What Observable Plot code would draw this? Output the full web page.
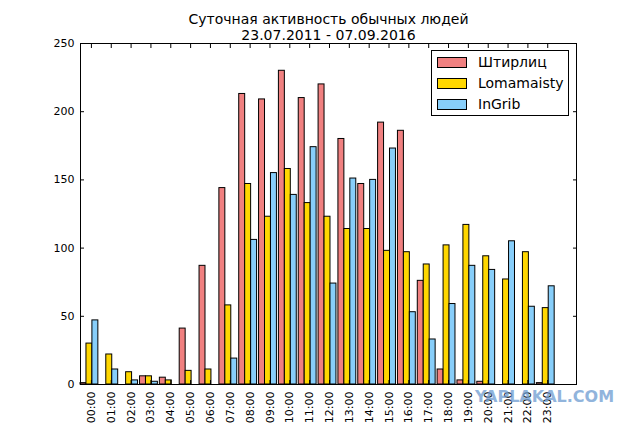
<!DOCTYPE html>
<html>
<head>
<meta charset="utf-8">
<script src="https://cdn.jsdelivr.net/npm/d3@7"></script>
<script src="https://cdn.jsdelivr.net/npm/@observablehq/plot@0.6"></script>
<style>
  html, body { margin: 0; padding: 0; background: #fff; }
  #wrap { position: relative; width: 640px; height: 427px; font-family: "DejaVu Sans", sans-serif; }
  #legend { position: absolute; left: 431px; top: 50px; width: 138px; height: 66px; border: 1px solid #000; background: #fff; box-sizing: border-box; }
  .row { position: absolute; left: 5px; height: 12px; display: flex; align-items: center; font-size: 14px; color: #000; }
  .sw { width: 28px; height: 9px; border: 1px solid #000; margin-right: 11px; flex: none; }
  #wm { position: absolute; left: 475px; top: 387px; font-family: "DejaVu Sans", sans-serif; font-weight: bold; font-size: 16px; color: #6d9bd1; opacity: 0.75; letter-spacing: 0px; }
</style>
</head>
<body>
<div id="wrap"></div>
<script>
const hours = ["00:00","01:00","02:00","03:00","04:00","05:00","06:00","07:00","08:00","09:00","10:00","11:00",
               "12:00","13:00","14:00","15:00","16:00","17:00","18:00","19:00","20:00","21:00","22:00","23:00"];
const seriesNames = ["Штирлиц", "Lomamaisty", "InGrib"];
const shtirlits  = [1, 0, 0, 6, 5, 41, 87, 144, 213, 209, 230, 210, 220, 180, 147, 192, 186, 76, 11, 3, 2, 0, 0, 1];
const lomamaisty = [30, 22, 9, 6, 3, 10, 11, 58, 147, 123, 158, 133, 123, 114, 114, 98, 97, 88, 102, 117, 94, 77, 97, 56];
const ingrib     = [47, 11, 3, 2, 0, 0, 0, 19, 106, 155, 139, 174, 74, 151, 150, 173, 53, 33, 59, 87, 84, 105, 57, 72];
const yTicks = [0, 50, 100, 150, 200, 250];
const colors = ["#f08080", "#ffd700", "#87cefa"];
const titleLines = ["Суточная активность обычных людей", "23.07.2011 - 07.09.2016"];

const barW = 0.3;
const tickOffset = 0.55;
const allSeries = [shtirlits, lomamaisty, ingrib];
const rows = [];
allSeries.forEach((vals, k) => vals.forEach((v, i) => rows.push({
  series: seriesNames[k], x1: i + k * barW, x2: i + (k + 1) * barW, value: v
})));
const xTickPos = hours.map((h, i) => i + tickOffset);

const chart = Plot.plot({
  width: 640,
  height: 427,
  marginLeft: 80,
  marginRight: 64,
  marginTop: 43,
  marginBottom: 43,
  style: { fontFamily: "DejaVu Sans, sans-serif", fontSize: "11px", color: "#000", background: "#fff" },
  x: { domain: [0, 25] },
  y: { domain: [0, 250] },
  color: { domain: seriesNames, range: colors },
  marks: [
    Plot.rectY(rows, { x1: "x1", x2: "x2", y1: 0, y2: "value", fill: "series", stroke: "#000", strokeWidth: 1 }),
    Plot.axisY({ anchor: "left", ticks: yTicks, tickSize: 0, tickPadding: 6, label: null, fontSize: 11 }),
    Plot.axisY({ anchor: "left", ticks: yTicks, tickSize: 4, text: null, label: null, dx: 4 }),
    Plot.axisY({ anchor: "right", ticks: yTicks, tickSize: 4, text: null, label: null, dx: -4 }),
    Plot.axisX({ anchor: "top", ticks: xTickPos, tickSize: 4, text: null, label: null, dy: 4 }),
    Plot.axisX({ anchor: "bottom", ticks: xTickPos, tickSize: 4, text: null, label: null, dy: -4 }),
    Plot.axisX({ anchor: "bottom", ticks: xTickPos, tickSize: 0, tickPadding: 7, tickRotate: -90,
                 tickFormat: d => hours[Math.round(d - tickOffset)], label: null, fontSize: 11 }),
    Plot.frame({ stroke: "#000", strokeWidth: 1 }),
    Plot.text([titleLines[0]], { frameAnchor: "top", dy: -29, fontSize: 14, fill: "#000" }),
    Plot.text([titleLines[1]], { frameAnchor: "top", dy: -13, fontSize: 14, fill: "#000" })
  ]
});

const wrap = document.getElementById("wrap");
wrap.appendChild(chart);

const legend = document.createElement("div");
legend.id = "legend";
seriesNames.forEach((name, k) => {
  const row = document.createElement("div");
  row.className = "row";
  row.style.top = (5 + k * 21) + "px";
  const sw = document.createElement("span");
  sw.className = "sw";
  sw.style.background = colors[k];
  const t = document.createElement("span");
  t.textContent = name;
  row.appendChild(sw);
  row.appendChild(t);
  legend.appendChild(row);
});
wrap.appendChild(legend);

const wm = document.createElement("div");
wm.id = "wm";
wm.textContent = "YAPLAKAL.COM";
wrap.appendChild(wm);
</script>
</body>
</html>
